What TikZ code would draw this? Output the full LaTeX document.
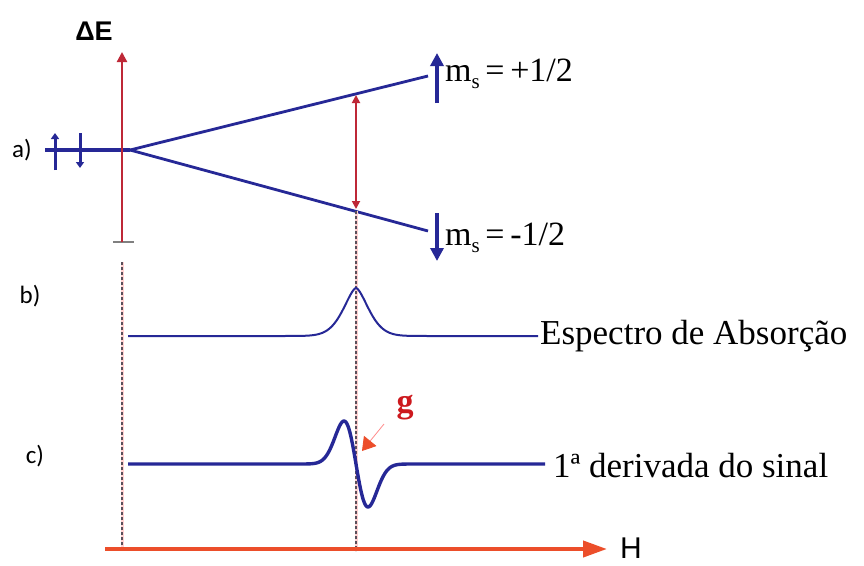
\documentclass[tikz,border=0pt]{standalone}
\usepackage{fontspec}
\setmainfont{Liberation Serif}
\newfontfamily\labfont{Carlito}
\newfontfamily\arialfont{Liberation Sans}
\usetikzlibrary{arrows.meta}
\definecolor{eprblue}{RGB}{38,40,150}
\definecolor{axred}{RGB}{190,40,55}
\definecolor{hred}{RGB}{236,78,42}
\definecolor{gred}{RGB}{205,25,30}
\definecolor{dashgray}{RGB}{90,80,90}
\begin{document}
\begin{tikzpicture}[x=1pt,y=-1pt,
  level/.style={eprblue,line width=3.6pt},
  spin/.style={eprblue,line width=3pt,-{Triangle[width=8pt,length=6pt]}},
  bigspin/.style={eprblue,line width=4.5pt,-{Triangle[width=13pt,length=13pt]}},
  guide/.style={dashgray,densely dashed,line width=1.2pt},
  halo/.style={red!18,line width=3pt},
  serif/.style={font=\fontsize{35}{40}\selectfont,anchor=west,inner sep=0pt},
  lab/.style={font=\labfont\fontsize{25}{30}\selectfont,inner sep=0pt}]
\useasboundingbox (0,0) rectangle (864,565);
\fill[white] (0,0) rectangle (864,565);

% energy axis
\coordinate (Ebot) at (122,242);
\coordinate (Etop) at (122,52);
\draw[gray,line width=1.4pt] (113,242) -- (134,242);
\node[font=\arialfont\bfseries\fontsize{27}{30}\selectfont,inner sep=0pt] (dE) at (94,31) {ΔE};

% levels
\coordinate (L0) at (45,150);
\coordinate (split) at (130,150);
\coordinate (up) at (428,76);
\coordinate (dn) at (428,231);
\draw[level] (L0) -- (split);
\draw[level,line width=2.8pt] (split) -- (up);
\draw[level,line width=2.8pt] (split) -- (dn);
\draw[axred,line width=2.2pt,-{Triangle[width=10pt,length=10pt]}] (Ebot) -- (Etop);

% small spin arrows
\coordinate (s1a) at (55,170); \coordinate (s1b) at (55,133);
\coordinate (s2a) at (80,133); \coordinate (s2b) at (80,168);
\draw[spin] (s1a) -- (s1b);
\draw[spin] (s2a) -- (s2b);

% big spin arrows
\coordinate (bu1) at (437,103); \coordinate (bu2) at (437,53);
\coordinate (bd1) at (437,213); \coordinate (bd2) at (437,261);
\draw[bigspin] (bu1) -- (bu2);
\draw[bigspin] (bd1) -- (bd2);
\node[serif,font=\fontsize{34}{40}\selectfont] (mp) at (445,74) {m\raisebox{-7pt}{\fontsize{21}{21}\selectfont s}\,=\,+1/2};
\node[serif,font=\fontsize{34}{40}\selectfont] (mm) at (445,238) {m\raisebox{-7pt}{\fontsize{21}{21}\selectfont s}\,=\,-1/2};

% transition
\coordinate (tU) at (356,95);
\coordinate (tD) at (356,209);
\draw[axred,line width=1.8pt,{Triangle[width=8pt,length=8pt]}-{Triangle[width=8pt,length=8pt]}] (tU) -- (tD);

% guide lines
\coordinate (g1a) at (122,262); \coordinate (g1b) at (122,551);
\coordinate (g2a) at (356,211); \coordinate (g2b) at (356,551);
\draw[halo] (g1a) -- (g1b);
\draw[halo] (g2a) -- (g2b);
\draw[guide] (g1a) -- (g1b);
\draw[guide] (g2a) -- (g2b);

% labels
\node[lab] (la) at (22,150) {a)};
\node[lab] (lb) at (30,296) {b)};
\node[lab] (lc) at (35,456) {c)};

% absorption spectrum
\draw[eprblue,line width=2pt,line join=round] (128,336) -- (250,336)
  -- plot[domain=250:462,samples=200] (\x,{336-48*exp(-abs((\x-356)/18)^1.6)})
  -- (538,336);
\node[serif] (abs) at (540,336) {Espectro de Absorção};

% derivative
\draw[eprblue,line width=3.4pt,line join=round] (128,464) -- (290,464)
  -- plot[domain=290:430,samples=160] (\x,{464+43*((\x-356)/12)*exp(0.5-((\x-356)/12)^2/2)})
  -- (545,464);
\node[serif] (der) at (553,466) {1ª derivada do sinal};

% g marker
\node[text=gred,font=\bfseries\fontsize{34}{40}\selectfont,inner sep=0pt] (g) at (405,408) {g};
\coordinate (gp) at (362,451);
\draw[red!45,line width=0.8pt,-{Triangle[width=16pt,length=13pt,fill=hred,color=hred]}] (384,424) -- (gp);

% field axis
\coordinate (H0) at (105,549);
\coordinate (H1) at (607,549);
\draw[hred,line width=4pt,-{Triangle[width=16pt,length=24pt]}] (H0) -- (H1);
\node[font=\arialfont\fontsize{30}{34}\selectfont,anchor=base west,inner sep=0pt] (H) at (620,558) {H};
\end{tikzpicture}
\end{document}
